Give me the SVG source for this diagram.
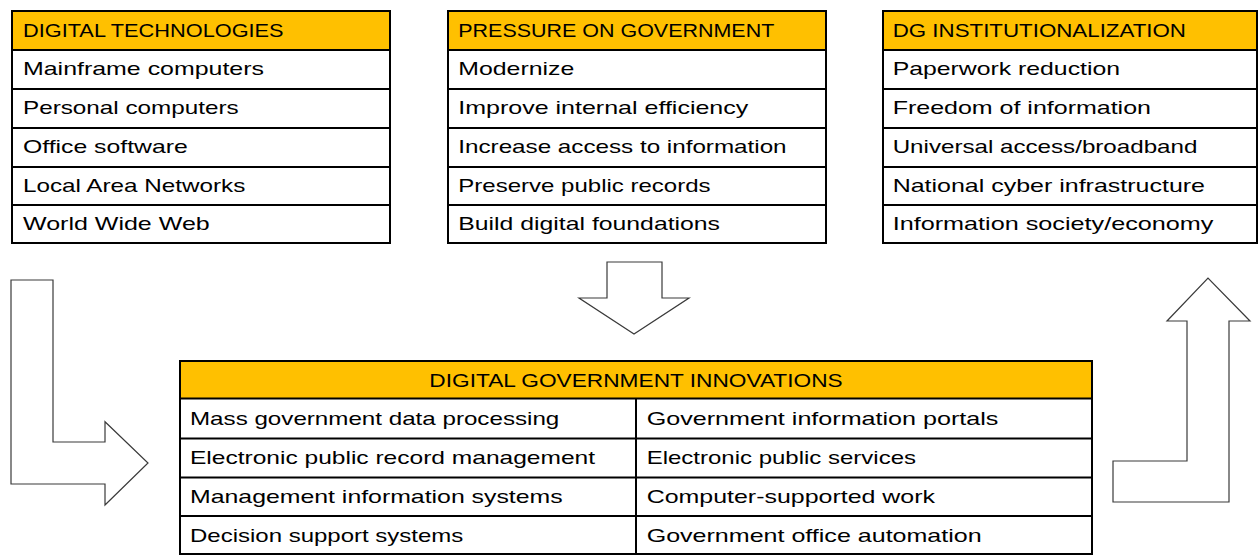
<svg xmlns="http://www.w3.org/2000/svg" width="1259" height="555" viewBox="0 0 1259 555">
<style>
.hdr{fill:#FFC000;}
.cell{fill:#FFFFFF;}
.ln{stroke:#000;stroke-width:2;fill:none;}
.t{font-family:"Liberation Sans",Arial,sans-serif;font-size:18.5px;fill:#000;}
.arrow{fill:#FFFFFF;stroke:#3a3a3a;stroke-width:1.2;stroke-linejoin:miter;}
</style>
<rect width="1259" height="555" fill="#FFFFFF"/>

<g id="digital-technologies">
<rect class="cell" x="12" y="11" width="378" height="232"/>
<rect class="hdr" x="12" y="11" width="378" height="39"/>
<path class="ln" d="M12,11H390V243H12Z M12,50H390 M12,89H390 M12,128H390 M12,167H390 M12,205H390"/>
<text class="t" x="23" y="36.5" textLength="260.6" lengthAdjust="spacingAndGlyphs">DIGITAL TECHNOLOGIES</text>
<text class="t" x="23" y="75" textLength="241" lengthAdjust="spacingAndGlyphs">Mainframe computers</text>
<text class="t" x="23" y="113.5" textLength="215.7" lengthAdjust="spacingAndGlyphs">Personal computers</text>
<text class="t" x="23" y="152.5" textLength="164.7" lengthAdjust="spacingAndGlyphs">Office software</text>
<text class="t" x="23" y="191.5" textLength="222.3" lengthAdjust="spacingAndGlyphs">Local Area Networks</text>
<text class="t" x="23" y="230" textLength="186.7" lengthAdjust="spacingAndGlyphs">World Wide Web</text>
</g>

<g id="pressure-on-government">
<rect class="cell" x="448" y="11" width="378" height="232"/>
<rect class="hdr" x="448" y="11" width="378" height="39"/>
<path class="ln" d="M448,11H826V243H448Z M448,50H826 M448,89H826 M448,128H826 M448,167H826 M448,205H826"/>
<text class="t" x="458.3" y="36.5" textLength="316" lengthAdjust="spacingAndGlyphs">PRESSURE ON GOVERNMENT</text>
<text class="t" x="458.3" y="75" textLength="116" lengthAdjust="spacingAndGlyphs">Modernize</text>
<text class="t" x="458.3" y="113.5" textLength="290" lengthAdjust="spacingAndGlyphs">Improve internal efficiency</text>
<text class="t" x="458.3" y="152.5" textLength="328.3" lengthAdjust="spacingAndGlyphs">Increase access to information</text>
<text class="t" x="458.3" y="191.5" textLength="252.3" lengthAdjust="spacingAndGlyphs">Preserve public records</text>
<text class="t" x="458.3" y="230" textLength="261.7" lengthAdjust="spacingAndGlyphs">Build digital foundations</text>
</g>

<g id="dg-institutionalization">
<rect class="cell" x="883" y="11" width="374" height="232"/>
<rect class="hdr" x="883" y="11" width="374" height="39"/>
<path class="ln" d="M883,11H1257V243H883Z M883,50H1257 M883,89H1257 M883,128H1257 M883,167H1257 M883,205H1257"/>
<text class="t" x="892.7" y="36.5" textLength="293.3" lengthAdjust="spacingAndGlyphs">DG INSTITUTIONALIZATION</text>
<text class="t" x="892.7" y="75" textLength="227.3" lengthAdjust="spacingAndGlyphs">Paperwork reduction</text>
<text class="t" x="892.7" y="113.5" textLength="258.3" lengthAdjust="spacingAndGlyphs">Freedom of information</text>
<text class="t" x="892.7" y="152.5" textLength="304.7" lengthAdjust="spacingAndGlyphs">Universal access/broadband</text>
<text class="t" x="892.7" y="191.5" textLength="312.3" lengthAdjust="spacingAndGlyphs">National cyber infrastructure</text>
<text class="t" x="892.7" y="230" textLength="320.7" lengthAdjust="spacingAndGlyphs">Information society/economy</text>
</g>

<g id="digital-government-innovations">
<rect class="cell" x="180" y="361" width="912" height="193"/>
<rect class="hdr" x="180" y="361" width="912" height="37.5"/>
<path class="ln" d="M180,361H1092V554H180Z M180,398.5H1092 M180,438.5H1092 M180,477.5H1092 M180,516H1092 M636,398.5V554"/>
<text class="t" x="636" y="386.5" text-anchor="middle" textLength="413.3" lengthAdjust="spacingAndGlyphs">DIGITAL GOVERNMENT INNOVATIONS</text>
<text class="t" x="190" y="425" textLength="369.3" lengthAdjust="spacingAndGlyphs">Mass government data processing</text>
<text class="t" x="190" y="464.3" textLength="405" lengthAdjust="spacingAndGlyphs">Electronic public record management</text>
<text class="t" x="190" y="503" textLength="372.7" lengthAdjust="spacingAndGlyphs">Management information systems</text>
<text class="t" x="190" y="541.7" textLength="273.3" lengthAdjust="spacingAndGlyphs">Decision support systems</text>
<text class="t" x="646.7" y="425" textLength="351.7" lengthAdjust="spacingAndGlyphs">Government information portals</text>
<text class="t" x="646.7" y="464.3" textLength="269.3" lengthAdjust="spacingAndGlyphs">Electronic public services</text>
<text class="t" x="646.7" y="503" textLength="288.3" lengthAdjust="spacingAndGlyphs">Computer-supported work</text>
<text class="t" x="646.7" y="541.7" textLength="335" lengthAdjust="spacingAndGlyphs">Government office automation</text>
</g>

<g id="connectors">
<path class="arrow" d="M11,280H53V442H105V421.7L148,463L105,505V484H11Z"/>
<path class="arrow" d="M607,262H662V298H689L634,334L579,298H607Z"/>
<path class="arrow" d="M1113,461H1187V321H1167L1208,278L1250,321H1229V502H1113Z"/>
</g>
</svg>
